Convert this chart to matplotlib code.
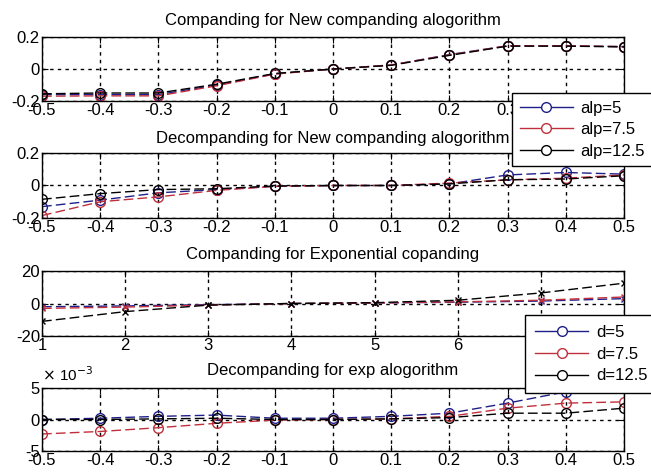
import matplotlib
matplotlib.use('Agg')
import matplotlib.pyplot as plt
from matplotlib.lines import Line2D
import numpy as np

plt.rcParams['font.family'] = ['Liberation Sans', 'DejaVu Sans']
plt.rcParams['axes.unicode_minus'] = False

# x values
x_lin = [-0.5, -0.4, -0.3, -0.2, -0.1, 0.0, 0.1, 0.2, 0.3, 0.4, 0.5]
x_lin_labels = ['-0.5', '-0.4', '-0.3', '-0.2', '-0.1', '0', '0.1', '0.2', '0.3', '0.4', '0.5']
x_exp = [1, 2, 3, 4, 5, 6, 7, 8]

# companding, new algorithm
comp_a5 = [-0.160, -0.160, -0.160, -0.100, -0.030, 0.0, 0.025, 0.090, 0.145, 0.145, 0.140]
comp_a75 = [-0.170, -0.168, -0.168, -0.105, -0.032, 0.0, 0.025, 0.088, 0.145, 0.145, 0.140]
comp_a125 = [-0.155, -0.150, -0.150, -0.095, -0.028, 0.0, 0.023, 0.085, 0.143, 0.143, 0.138]

# decompanding, new algorithm
dec_a5 = [-0.13, -0.09, -0.045, -0.025, -0.005, 0.0, 0.0, 0.01, 0.065, 0.08, 0.07]
dec_a75 = [-0.185, -0.10, -0.07, -0.03, -0.005, 0.0, 0.0, 0.015, 0.035, 0.045, 0.065]
dec_a125 = [-0.085, -0.05, -0.025, -0.02, -0.003, 0.0, 0.0, 0.01, 0.035, 0.04, 0.06]

# exponential companding
exp_d5 = [-2.0, -1.5, -0.7, 0.0, 0.3, 0.8, 1.5, 3.0]
exp_d75 = [-3.0, -2.2, -1.0, 0.0, 0.4, 1.0, 2.0, 4.0]
exp_d125 = [-11.0, -5.0, -1.0, 0.0, 0.5, 2.0, 6.5, 12.5]

# exp decompanding (units of 1e-3)
dexp_d5 = [0.0, 0.2, 0.5, 0.7, 0.2, 0.2, 0.5, 1.0, 2.6, 4.4, 6.5]
dexp_d75 = [-2.3, -1.9, -1.3, -0.6, -0.1, 0.0, 0.1, 0.5, 1.8, 2.6, 2.8]
dexp_d125 = [0.0, 0.0, 0.1, 0.2, 0.0, 0.0, 0.1, 0.3, 1.0, 1.0, 1.8]

alp_labels = ['alp=5', 'alp=7.5', 'alp=12.5']
d_labels = ['d=5', 'd=7.5', 'd=12.5']

blue = '#1f1f8a'
red = '#c0303c'
black = '#000000'
colors = [blue, red, black]

fs = 12
dash = (0, (7, 3))

fig = plt.figure(figsize=(6.51, 4.75), dpi=100)
W, H = 651.0, 475.0
left, right = 42, 624
tops = [37, 153, 271, 388]
bots = [101, 218, 336, 451]
axes = []
for t, b in zip(tops, bots):
    axes.append(fig.add_axes([left / W, 1 - b / H, (right - left) / W, (b - t) / H]))


def style(ax, xt, xl, yt, yl, xlim, ylim):
    ax.set_xlim(xlim)
    ax.set_ylim(ylim)
    ax.set_xticks(xt)
    ax.set_xticklabels(xl)
    ax.set_yticks(yt)
    ax.set_yticklabels(yl)
    ax.tick_params(direction='in', length=4, width=0.8, labelsize=fs, pad=1.5,
                   top=True, right=True)
    ax.grid(True, color='k', linewidth=1.0, linestyle=(0, (2.5, 3)))
    for s in ax.spines.values():
        s.set_linewidth(1.0)


# subplot 1
ax = axes[0]
for ys, c in zip([comp_a5, comp_a75, comp_a125], colors):
    ax.plot(x_lin, ys, color=c, linestyle=dash, lw=1.0, marker='o', ms=7, mfc='none', mew=1.0)
style(ax, x_lin, x_lin_labels, [-0.2, 0, 0.2], ['-0.2', '0', '0.2'], (-0.5, 0.5), (-0.2, 0.2))
ax.set_title('Companding for New companding alogorithm', fontsize=fs, pad=9)

# subplot 2
ax = axes[1]
for ys, c in zip([dec_a5, dec_a75, dec_a125], colors):
    ax.plot(x_lin, ys, color=c, linestyle=dash, lw=1.0, marker='o', ms=7, mfc='none', mew=1.0)
style(ax, x_lin, x_lin_labels, [-0.2, 0, 0.2], ['-0.2', '0', '0.2'], (-0.5, 0.5), (-0.2, 0.2))
ax.set_title('Decompanding for New companding alogorithm', fontsize=fs, pad=7)

# subplot 3
ax = axes[2]
for ys, c in zip([exp_d5, exp_d75, exp_d125], colors):
    ax.plot(x_exp, ys, color=c, linestyle=dash, lw=1.0, marker='x', ms=5, mew=1.0)
style(ax, x_exp, [str(v) for v in x_exp], [-20, 0, 20], ['-20', '0', '20'], (1, 8), (-20, 20))
ax.set_title('Companding for Exponential copanding', fontsize=fs, pad=9)

# subplot 4 (values scaled by 1e-3)
ax = axes[3]
for ys, c in zip([dexp_d5, dexp_d75, dexp_d125], colors):
    ax.plot(x_lin, np.array(ys) * 1e-3, color=c, linestyle=dash, lw=1.0, marker='o', ms=7,
            mfc='none', mew=1.0)
style(ax, x_lin, x_lin_labels, [-5e-3, 0, 5e-3], ['-5', '0', '5'], (-0.5, 0.5), (-5e-3, 5e-3))
ax.text(0.0, 1.06, r'$\times$ 10$^{-3}$', transform=ax.transAxes, fontsize=fs - 1,
        ha='left', va='bottom')
ax.set_title('Decompanding for exp alogorithm', fontsize=fs, pad=9)


def legend_handles(labels):
    return [Line2D([], [], color=c, lw=1.0, marker='o', ms=7, mfc='white', mew=1.0, label=l)
            for c, l in zip(colors, labels)]


for labels, (lx, ly), bp in [(alp_labels, (512, 93), 0.45), (d_labels, (525, 315), 0.6)]:
    leg = fig.legend(handles=legend_handles(labels), loc='upper left',
                     bbox_to_anchor=(lx / W, 1 - ly / H), bbox_transform=fig.transFigure,
                     fontsize=fs, frameon=True, fancybox=False, framealpha=1,
                     edgecolor='k', handlelength=3.2, handletextpad=0.45,
                     labelspacing=0.4, borderpad=bp, borderaxespad=0)
    leg.get_frame().set_linewidth(1.0)

fig.savefig('out.png', dpi=100)
